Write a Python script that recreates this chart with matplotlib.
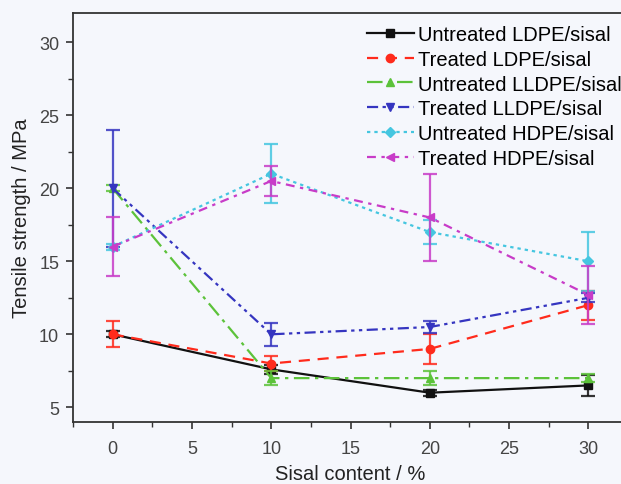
import matplotlib
matplotlib.use("Agg")
import matplotlib.pyplot as plt
from matplotlib.ticker import MultipleLocator

plt.rcParams["font.family"] = ["Liberation Sans", "DejaVu Sans"]

sisal = [0, 10, 20, 30]

untreated_ldpe = [10.0, 7.6, 6.0, 6.5]
untreated_ldpe_err = [0.2, 0.3, 0.2, 0.7]
treated_ldpe = [10.0, 8.0, 9.0, 12.0]
treated_ldpe_err = [0.9, 0.5, 1.0, 1.0]
untreated_lldpe = [20.0, 7.0, 7.0, 7.0]
untreated_lldpe_err = [0.2, 0.5, 0.5, 0.3]
treated_lldpe = [20.0, 10.0, 10.5, 12.5]
treated_lldpe_err = [4.0, 0.8, 0.4, 0.3]
untreated_hdpe = [16.0, 21.0, 17.0, 15.0]
untreated_hdpe_err = [0.2, 2.0, 0.8, 2.0]
treated_hdpe = [16.0, 20.5, 18.0, 12.7]
treated_hdpe_err = [2.0, 1.0, 3.0, 2.0]

labels = ["Untreated LDPE/sisal", "Treated LDPE/sisal", "Untreated LLDPE/sisal",
          "Treated LLDPE/sisal", "Untreated HDPE/sisal", "Treated HDPE/sisal"]

series = [
    (untreated_ldpe, untreated_ldpe_err, "#111111", "s", "-"),
    (treated_ldpe, treated_ldpe_err, "#ff2b1c", "o", (0, (5, 3.5))),
    (untreated_lldpe, untreated_lldpe_err, "#5cc23a", "^", (0, (7, 2.5, 1.5, 2.5))),
    (treated_lldpe, treated_lldpe_err, "#3535c0", "v", (0, (5, 2, 1.5, 2, 1.5, 2))),
    (untreated_hdpe, untreated_hdpe_err, "#45c6e0", "D", (0, (1.5, 1.8))),
    (treated_hdpe, treated_hdpe_err, "#c83cc8", "<", (0, (4, 2.5, 1.5, 2.5))),
]

bg = "#f5f7fc"
fig = plt.figure(figsize=(6.21, 4.85), dpi=100, facecolor=bg)
ax = fig.add_axes([0.1176, 0.128, 0.8937, 0.843], facecolor=bg)

for (vals, err, color, marker, ls), lab in zip(series, labels):
    ax.errorbar(sisal, vals, yerr=err, fmt="none", ecolor=color, elinewidth=1.6,
                capsize=5, capthick=1.6, alpha=0.85)
    ms = 6 if marker != "D" else 5.5
    ax.plot(sisal, vals, color=color, linestyle=ls, linewidth=1.6, marker=marker,
            markersize=ms, label=lab)

ax.set_xlim(-2.5, 32.5)
ax.set_ylim(4, 32)
ax.xaxis.set_major_locator(MultipleLocator(5))
ax.xaxis.set_minor_locator(MultipleLocator(2.5))
ax.yaxis.set_major_locator(MultipleLocator(5))
ax.yaxis.set_minor_locator(MultipleLocator(2.5))
ax.set_xticks([0, 5, 10, 15, 20, 25, 30])
ax.tick_params(which="major", direction="out", length=5, width=1.2, labelsize=13,
               colors="#333333", labelcolor="#444444")
ax.tick_params(axis="x", which="major", pad=8)
ax.tick_params(axis="y", which="major", pad=5)
ax.tick_params(which="minor", direction="out", length=3.5, width=1.0, colors="#333333")
for sp in ax.spines.values():
    sp.set_linewidth(1.3)
    sp.set_color("#333333")

ax.set_xlabel("Sisal content / %", fontsize=14.5, labelpad=5, color="#222222")
ax.set_ylabel("Tensile strength / MPa", fontsize=14.5, labelpad=6, color="#222222")

ax.legend(loc="upper left", bbox_to_anchor=(0.585, 0.955), bbox_transform=fig.transFigure,
          frameon=False, fontsize=14.5, handlelength=2.3, handletextpad=0.2,
          labelspacing=0.29, borderaxespad=0, borderpad=0.2)

fig.savefig("out.png", dpi=100, facecolor=bg)
plt.close(fig)
